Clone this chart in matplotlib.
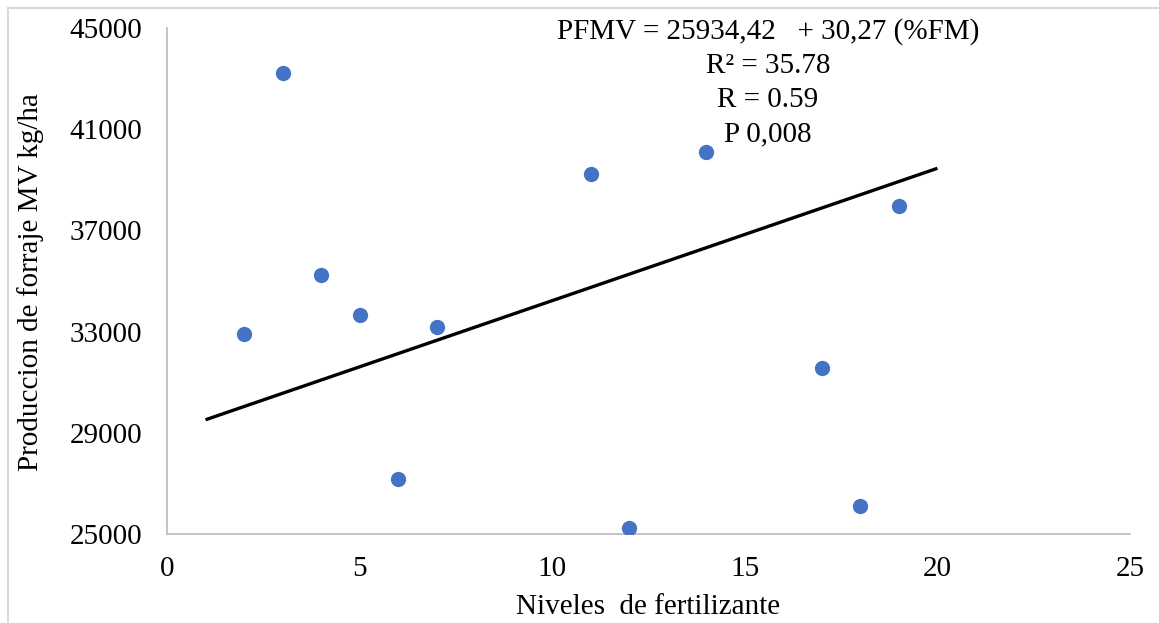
import matplotlib.pyplot as plt
from matplotlib.lines import Line2D

# data
niveles = [2, 3, 4, 5, 6, 7, 11, 12, 14, 17, 18, 19]
produccion = [32920, 43220, 35220, 33670, 27180, 33200, 39220, 25240, 40090, 31570, 26110, 37950]
trend_x = [1, 20]
trend_y = [29515, 39455]
x_ticks = [0, 5, 10, 15, 20, 25]
y_ticks = [25000, 29000, 33000, 37000, 41000, 45000]
annot_lines = ["PFMV = 25934,42   + 30,27 (%FM)", "R\u00b2 = 35.78", "R = 0.59", "P 0,008"]

plt.rcParams['font.family'] = ['Liberation Serif', 'DejaVu Serif']

fig = plt.figure(figsize=(11.59, 6.23), dpi=100)
ax = fig.add_axes([167/1159, 1-534/623, (1130-167)/1159, (534-28)/623])

ax.scatter(niveles, produccion, s=11**2, color='#4472C4', zorder=3, linewidths=0)
ax.plot(trend_x, trend_y, color='black', lw=2.4, solid_capstyle='butt', zorder=2)

ax.set_xlim(0, 25)
ax.set_ylim(25000, 45000)
ax.set_xticks(x_ticks)
ax.set_yticks(y_ticks)
ax.tick_params(length=0, labelsize=21)
ax.tick_params(axis='y', pad=18)
ax.tick_params(axis='x', pad=16)
for s in ['top', 'right']:
    ax.spines[s].set_visible(False)
for s in ['left', 'bottom']:
    ax.spines[s].set_color('#BFBFBF')
    ax.spines[s].set_linewidth(1.3)

fig.text(648/1159, 1-607/623, "Niveles  de fertilizante", fontsize=21, ha='center', va='center')
fig.text(31/1159, 1-282/623, "Produccion de forraje MV kg/ha", fontsize=21, ha='center', va='center',
         rotation=90)

for i, line in enumerate(annot_lines):
    fig.text(768/1159, 1-(39+34*i)/623, line, fontsize=21, ha='center', va='baseline')

# outer frame
fig.add_artist(Line2D([8/1159, 8/1159], [-0.1, 1-8/623], color='#D9D9D9', lw=1.5,
                      transform=fig.transFigure))
fig.add_artist(Line2D([8/1159, 1.1], [1-8/623, 1-8/623], color='#D9D9D9', lw=1.5,
                      transform=fig.transFigure))

fig.savefig('out.png', dpi=100, facecolor='white')
